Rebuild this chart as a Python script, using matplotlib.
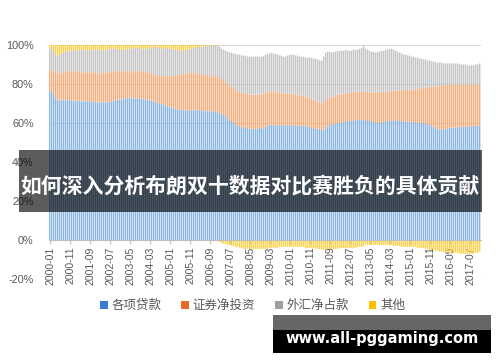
import numpy as np
import pandas as pd
import matplotlib
matplotlib.use('Agg')
import matplotlib.pyplot as plt
from matplotlib.patches import Patch, Rectangle

plt.rcParams['font.family'] = ['Liberation Sans', 'Noto Sans CJK SC', 'DejaVu Sans']

# monthly shares (%), 2000-01 .. 2017-12, one row per year
loans = [
    76.5, 76, 75, 73, 72, 71.5, 71.5, 72, 71.5, 71.5, 72, 71.5,
    71.5, 71.5, 71, 71.5, 71.5, 71, 71, 71.5, 71, 71, 71, 70.5,
    70.5, 70.5, 71, 70.5, 70.5, 70.5, 71, 71, 71.5, 71.5, 72, 72,
    72, 72.5, 72.5, 73, 73, 73, 72.5, 72.5, 73, 72.5, 72.5, 72,
    72, 72, 71.5, 71.5, 71, 71, 70.5, 70, 70, 69.5, 69, 68.5,
    68, 68, 67.5, 67.5, 67, 67, 66.5, 66.5, 66.5, 66.5, 66.5, 66.5,
    66.5, 66.5, 66.5, 66.5, 66.5, 66.5, 66, 66, 66, 66, 66, 65.5,
    65.5, 65, 64.5, 64, 63.5, 62.5, 61.5, 61, 60, 59, 58.5, 58,
    58, 57.5, 57.5, 57, 57, 57, 57, 57, 57, 57.5, 57.5, 57,
    58, 58.5, 59, 59, 59, 59, 58.5, 58.5, 59, 59, 59, 58.5,
    59, 59, 58.5, 58.5, 58.5, 58.5, 58.5, 58.5, 58.5, 58, 58, 57.5,
    57.5, 57, 57, 57, 56.5, 56.5, 57, 58, 59, 59.5, 59.5, 59.5,
    60, 60, 60, 60.5, 60.5, 61, 61, 61, 61, 61.5, 61.5, 61.5,
    61.5, 61.5, 61.5, 61, 61, 61, 60.5, 60.5, 60, 60, 60, 60.5,
    61, 61, 61, 61, 61.5, 61.5, 61, 61, 61, 60.5, 60.5, 60.5,
    60.5, 60.5, 60.5, 60.5, 60, 60, 60, 60, 59.5, 59.5, 59, 58.5,
    58, 57.5, 57, 56.5, 56.5, 56.5, 57, 57, 57.5, 57.5, 57.5, 57.5,
    58, 58, 58, 58, 58, 58, 58, 58.5, 58.5, 58.5, 58.5, 58.5,
]
securities = [
    10.5, 11, 11.5, 13, 13.5, 14, 14.5, 14, 14.5, 14.5, 14.5, 15,
    15, 15, 15.5, 15, 14.5, 15, 15, 14.5, 15, 15, 15, 15.5,
    15, 15, 14.5, 15.5, 15.5, 15.5, 15, 15, 15, 15, 14.5, 14.5,
    14.5, 14, 13.5, 13, 13, 13, 13.5, 14, 13.5, 14, 14, 14.5,
    14.5, 14, 14.5, 14, 14, 13.5, 13.5, 14, 14, 14.5, 15, 15.5,
    16, 16, 16.5, 17, 17.5, 18, 18.5, 18.5, 19, 19, 19, 19,
    19, 19, 19, 18.5, 18.5, 18, 18.5, 18.5, 18, 18, 18, 18.5,
    18, 18, 18, 18, 17.5, 17.5, 17.5, 17.5, 18, 18, 18, 18,
    17.5, 18, 17.5, 18, 17.5, 17.5, 17.5, 17.5, 17.5, 17, 17.5, 18,
    17.5, 17.5, 17, 17, 17, 17, 17, 17, 16.5, 16.5, 16, 16.5,
    16, 16, 16.5, 16, 16, 15.5, 15.5, 15.5, 15, 15.5, 15, 15,
    14.5, 14.5, 14, 13.5, 13.5, 14, 14.5, 14.5, 14, 14, 14, 14.5,
    14.5, 14.5, 15, 14.5, 14.5, 14.5, 14.5, 14.5, 15, 14.5, 14.5, 14.5,
    14.5, 15, 14.5, 15, 15, 14.5, 15, 15, 15.5, 16, 16, 15.5,
    15, 15, 15, 15.5, 15, 15, 15.5, 15.5, 15.5, 16.5, 16.5, 16.5,
    16.5, 16.5, 16.5, 17, 17.5, 17.5, 18, 18, 18.5, 18.5, 19.5, 20,
    20.5, 21.5, 22, 22.5, 22.5, 22.5, 22.5, 22.5, 22, 22, 22, 22,
    21.5, 21.5, 21.5, 21.5, 21.5, 21.5, 21.5, 21, 21, 21, 21, 21,
]
fx = [
    11.5, 11, 10.5, 9, 9, 9.5, 9.5, 10, 10.5, 11, 10.5, 10.5,
    11, 11, 10.5, 10.5, 11.5, 11.5, 11.5, 11, 11, 11.5, 11.5, 11.5,
    12, 12, 12, 11.5, 11, 11.5, 12, 12, 11.5, 11.5, 11.5, 11,
    11, 11, 11.5, 12, 12, 12, 12.5, 12, 12, 12, 11.5, 11.5,
    11.5, 12, 12.5, 13, 14, 14.5, 14.5, 14.5, 14, 14, 14.5, 14.5,
    14, 14, 13.5, 13, 13, 12, 12, 12, 12, 12, 12.5, 12.5,
    13, 13, 13.5, 14, 14, 14.5, 15, 15, 15.5, 15.5, 15.5, 15.5,
    16, 16, 15.5, 15.5, 16, 16.5, 17, 17.5, 17.5, 18.5, 18.5, 19,
    19, 19, 19.5, 19, 19.5, 19.5, 19.5, 19.5, 19.5, 19.5, 19, 19.5,
    19.5, 19.5, 19.5, 20, 19.5, 19.5, 19.5, 19, 19, 18.5, 19, 19.5,
    20, 20, 20, 20, 20, 20, 20, 20, 20, 20, 20.5, 21,
    21, 21.5, 21.5, 21.5, 22, 23.5, 24.5, 24, 23.5, 22.5, 23, 22.5,
    22.5, 22.5, 22, 22, 22.5, 21.5, 21.5, 21.5, 21.5, 21.5, 21.5, 22,
    22.5, 23, 22, 21.5, 21, 21, 21, 20.5, 21, 20.5, 21, 21,
    21.5, 21.5, 22, 21.5, 21, 20.5, 20, 19.5, 19, 18, 18, 17.5,
    17.5, 17, 17, 16, 16, 15.5, 15, 14.5, 14.5, 14, 13.5, 13,
    13, 12, 12, 12, 12, 11.5, 11, 11, 11, 11, 11, 11,
    11, 10.5, 10.5, 10.5, 10.5, 10, 10, 10, 10, 10.5, 10.5, 11,
]
other = [
    1.5, 2, 3, 5, 5.5, 5, 4.5, 4, 3.5, 3, 3, 3,
    2.5, 2.5, 3, 3, 2.5, 2.5, 2.5, 3, 3, 2.5, 2.5, 2.5,
    2.5, 2.5, 2.5, 2.5, 3, 2.5, 2, 2, 2, 2, 2, 2.5,
    2.5, 2.5, 2.5, 2, 2, 2, 1.5, 1.5, 1.5, 1.5, 2, 2,
    2, 2, 1.5, 1.5, 1, 1, 1.5, 1.5, 2, 2, 1.5, 1.5,
    2, 2, 2.5, 2.5, 2.5, 3, 3, 3, 2.5, 2.5, 2, 2,
    1.5, 1.5, 1, 1, 1, 1, 0.5, 0.5, 0.5, 0.5, 0.5, 0.5,
    -0.5, -1, -1.5, -2, -2, -2.5, -2.5, -3, -3, -3.5, -3.5, -4,
    -4, -4.5, -4.5, -4.5, -4.5, -4.5, -4.5, -4.5, -4.5, -4.5, -4.5, -4.5,
    -4.5, -4.5, -4, -4, -4, -4, -4, -3.5, -3.5, -3.5, -3.5, -3.5,
    -3.5, -3.5, -3.5, -3.5, -3.5, -3.5, -3.5, -3.5, -4, -4, -4, -4,
    -4, -4.5, -4.5, -4.5, -5, -5, -5, -4.5, -4.5, -4.5, -4.5, -4.5,
    -4.5, -4, -4, -4, -4, -4, -4, -4, -4, -4, -3.5, -3.5,
    -3.5, -3, -2, -2.5, -2.5, -2.5, -2.5, -2.5, -2.5, -2.5, -2.5, -2.5,
    -2.5, -2.5, -2.5, -2.5, -3, -3, -3, -3, -3.5, -3.5, -3.5, -3.5,
    -3.5, -3.5, -3.5, -3.5, -4, -4, -4, -4, -4.5, -4.5, -5, -5,
    -5, -5.5, -5.5, -6, -6, -6, -6, -6.5, -6.5, -6.5, -6.5, -6.5,
    -6.5, -7, -7, -7, -7, -7, -7, -7, -7, -6.5, -6.5, -6,
]
series_names = ['各项贷款', '证券净投资', '外汇净占款', '其他']
months = pd.period_range('2000-01', periods=len(loans), freq='M').strftime('%Y-%m')

bar_cols = ['#8bb6e2', '#f4ad7a', '#c4c4c4', '#fcd048']
legend_cols = ['#3a7dd2', '#e8692a', '#a0a0a0', '#ffc000']
txt_col = '#595959'

fig = plt.figure(figsize=(5, 3.62), dpi=100)
# 432 px wide -> exactly 2 px per month
ax = fig.add_axes([0.098, 0.229, 0.864, 0.647])

x = np.arange(len(loans))
l = np.array(loans)
s = np.array(securities)
f = np.array(fx)
o = np.array(other)
pos_o = np.where(o > 0, o, 0)
neg_o = np.where(o < 0, o, 0)
w = 0.7
kw = dict(width=w, align='edge', linewidth=0, snap=False)
xl = x - 0.5
ax.bar(xl, l, color=bar_cols[0], **kw)
ax.bar(xl, s, bottom=l, color=bar_cols[1], **kw)
ax.bar(xl, f, bottom=l + s, color=bar_cols[2], **kw)
ax.bar(xl, pos_o, bottom=l + s + f, color=bar_cols[3], **kw)
ax.bar(xl, neg_o, color=bar_cols[3], **kw)

ax.set_xlim(-0.5, len(loans) - 0.5)
ax.set_ylim(-20, 100)
ax.set_yticks(range(-20, 101, 20))
ax.set_yticklabels([f'{v}%' for v in range(-20, 101, 20)])
ax.yaxis.grid(True, color='#d9d9d9', linewidth=0.8)
ax.set_axisbelow(True)
for sp in ['left', 'right', 'top']:
    ax.spines[sp].set_visible(False)
ax.spines['bottom'].set_position(('data', 0))
ax.spines['bottom'].set_color('#bfbfbf')
ax.spines['bottom'].set_linewidth(0.8)

ticks = x[::10]
ax.set_xticks(ticks)
ax.set_xticklabels([months[i] for i in ticks], rotation=90, fontsize=7.6, color=txt_col)
ax.tick_params(axis='x', length=3, color='#bfbfbf', pad=1.5)
ax.tick_params(axis='y', length=0, pad=11, labelsize=7.8, labelcolor=txt_col)

handles = [Patch(facecolor=c, edgecolor='none') for c in legend_cols]
fig.legend(handles, series_names, loc='center', bbox_to_anchor=(0.505, 0.155), ncol=4,
           frameon=False, fontsize=9, handlelength=0.6, handleheight=0.6,
           handletextpad=0.3, columnspacing=1.6, labelcolor=txt_col)

# title banner over the chart
fig.patches.append(Rectangle((0.038, 0.414), 0.926, 0.172, transform=fig.transFigure,
                             facecolor='black', alpha=0.64, edgecolor='none', zorder=5))
fig.text(0.5, 0.487, '如何深入分析布朗双十数据对比赛胜负的具体贡献', ha='center', va='center',
         fontsize=15, fontweight='bold', color='white',
         family=['Noto Sans CJK SC', 'DejaVu Sans'], zorder=6)

# watermark
fig.patches.append(Rectangle((0.546, 0.0884), 0.436, 0.0414, transform=fig.transFigure,
                             facecolor='#666666', edgecolor='none', zorder=5))
fig.patches.append(Rectangle((0.546, 0.025), 0.436, 0.0635, transform=fig.transFigure,
                             facecolor='black', edgecolor='none', zorder=5))
fig.text(0.764, 0.066, 'www.all-pggaming.com', ha='center', va='center', fontsize=10.5,
         fontweight='bold', color='white', family='DejaVu Sans', zorder=6)

fig.savefig('out.png', dpi=100)
